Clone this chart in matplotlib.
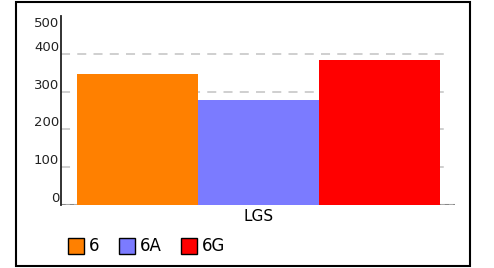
import matplotlib.pyplot as plt
from matplotlib.patches import Patch, Rectangle

# data
groups = ['6', '6A', '6G']
values = [347, 279, 384]
colors = ['#ff8000', '#7b7bff', '#ff0000']
category = 'LGS'
yticks = [0, 100, 200, 300, 400, 500]

fig = plt.figure(figsize=(4.94, 2.68), dpi=100)
ax = fig.add_axes([61 / 494, 63 / 268, 394 / 494, 189 / 268])

# outer frame
fig.patches.append(Rectangle((16 / 494, 2 / 268), 454 / 494, 264 / 268,
                             transform=fig.transFigure, fill=False,
                             edgecolor='black', linewidth=1.5))

xs = list(range(len(groups)))
ax.bar(xs, values, width=1.0, color=colors, zorder=2)

ax.set_xlim(-0.632, 2.624)
ax.set_ylim(0, 500)

# grid
for t in yticks[1:-1]:
    ax.axhline(t, xmin=0, xmax=0.99, color='#cccccc', linestyle=(0, (5, 4)),
               linewidth=1.3, zorder=1)
ax.axhline(0, color='#aaaaaa', linewidth=1.5, zorder=1)
ax.axhline(0, color='black', linestyle=(0, (3, 3)), linewidth=1.0, zorder=1.5)

for s in ['top', 'right', 'bottom']:
    ax.spines[s].set_visible(False)
ax.spines['left'].set_color('#222222')
ax.spines['left'].set_linewidth(1.3)

ax.set_xticks([])
ax.set_yticks([])

# y tick labels sit just above their grid lines
for t in yticks:
    y = t if t < 500 else 463
    ax.text(-0.648, y, str(t), ha='right', va='bottom', fontsize=9.5,
            color='#222222')

ax.text(1.0, -10, category, ha='center', va='top', fontsize=11)

handles = [Patch(facecolor=c, edgecolor='black', linewidth=1) for c in colors]
fig.legend(handles, groups, loc='lower left', bbox_to_anchor=(0.125, 0.022),
           ncol=3, frameon=False, fontsize=12, handlelength=0.95,
           handleheight=1.1, handletextpad=0.3, columnspacing=1.15,
           borderaxespad=0)

fig.savefig('out.png', dpi=100)
